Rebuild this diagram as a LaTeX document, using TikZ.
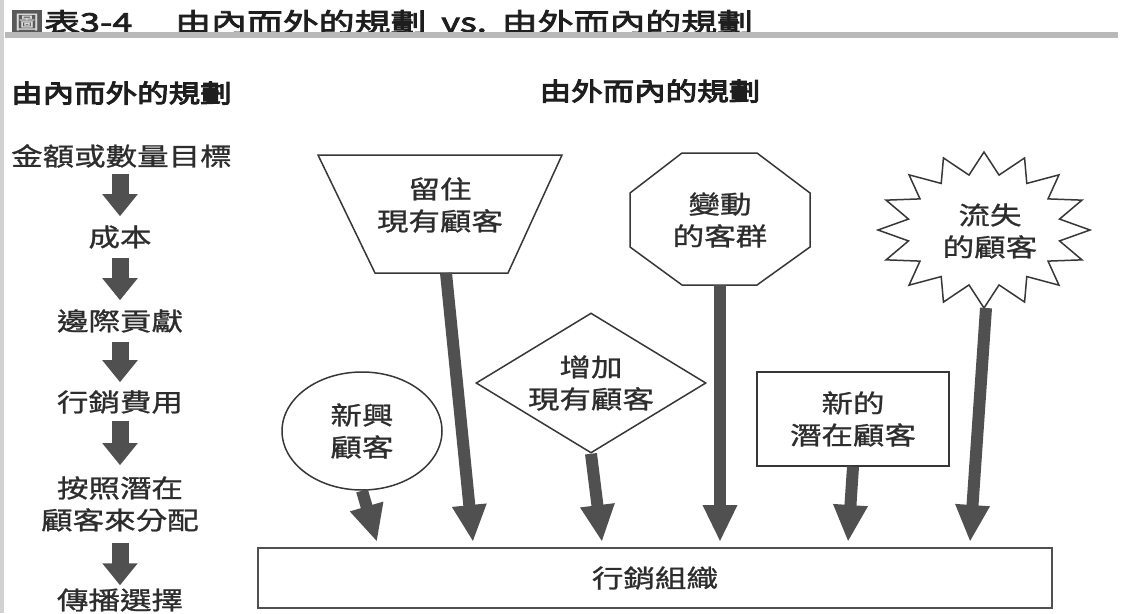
\documentclass[tikz,border=0pt]{standalone}
\usepackage{fontspec}
\newfontfamily\cjk[FakeStretch=1.26, FakeBold=1]{Noto Sans CJK TC}
\newfontfamily\cjkh[FakeStretch=1.26, FakeBold=4]{Noto Sans CJK TC}
\newfontfamily\cjkt[FakeStretch=1.38, FakeBold=3]{Noto Sans CJK TC}
\usetikzlibrary{arrows.meta,shapes.geometric}
\definecolor{arrowgray}{RGB}{80,80,80}
\definecolor{linegray}{RGB}{55,55,55}
\definecolor{txt}{RGB}{45,45,45}
\definecolor{headtxt}{RGB}{30,30,30}
\begin{document}
\begin{tikzpicture}[x=1pt,y=-1pt,
  every node/.style={inner sep=0pt, text=txt},
  body/.style={font=\cjk\fontsize{25}{32}\selectfont, align=center},
  heading/.style={font=\cjkh\fontsize{25}{32}\selectfont, text=headtxt},
  shapeline/.style={draw=linegray, line width=1.5pt},
  blockarrow/.style={draw=arrowgray, line width=17pt, -{Triangle[width=34pt,length=22pt]}},
  fatarrow/.style={draw=arrowgray, line width=12pt, -{Triangle[width=32pt,length=37pt]}},
]
\useasboundingbox (0,0) rectangle (1121,613);
\fill[white] (0,0) rectangle (1121,613);
\fill[gray!35] (0,0) rectangle (4,613);

% title
\node[fill=gray!70!black, text=gray!30, minimum width=30pt, minimum height=24pt,
      font=\cjk\fontsize{19}{19}\selectfont] (icon) at (27,22) {圖};
\node[anchor=west, font=\cjkt\fontsize{26}{26}\selectfont, text=headtxt] (tbl) at (44,22) {表3-4};
\node[anchor=west, font=\cjkt\fontsize{26}{26}\selectfont, text=headtxt] (title) at (175,22)
  {由內而外的規劃\hspace{15pt}vs.\hspace{15pt}由外而內的規劃};
\fill[gray!55] (5,32) rectangle (1118,38);

% left column
\node[heading, anchor=west] (inout) at (11,93) {由內而外的規劃};
\node[body, anchor=west] (goal) at (11,156) {金額或數量目標};
\node[body] (cost) at (120,237) {成本};
\node[body] (margin) at (120,321) {邊際貢獻};
\node[body] (mkt) at (120,402) {行銷費用};
\node[body] (alloc) at (120,504) {按照潛在\\顧客來分配};
\node[body] (media) at (120,600) {傳播選擇};

\draw[blockarrow, shorten <=6pt, shorten >=9pt] (goal.south -| cost.north) -- (cost.north);
\draw[blockarrow, shorten <=9pt, shorten >=9pt] (cost.south) -- (margin.north);
\draw[blockarrow, shorten <=9pt, shorten >=8pt] (margin.south) -- (mkt.north);
\draw[blockarrow, shorten <=7pt, shorten >=11pt] (mkt.south) -- (alloc.north);
\draw[blockarrow, shorten <=11pt, shorten >=3pt] (alloc.south) -- (media.north);

% right side
\node[heading] (outin) at (650,91) {由外而內的規劃};

% trapezoid
\draw[shapeline] (318,155) -- (562,155) -- (508,273) -- (375,273) -- cycle;
\coordinate (trapB) at (446,273);
\node[body] (keep) at (440,205) {留住\\現有顧客};

% octagon
\draw[shapeline] (682,153) -- (757,153) -- (810,193) -- (810,247) -- (757,285)
  -- (682,285) -- (630,247) -- (630,193) -- cycle;
\coordinate (octB) at (720,285);
\node[body] (vary) at (720,220) {變動\\的客群};

% star
\draw[shapeline, fill=white] plot[samples at={0,...,31}, variable=\i]
  ({984+ifthenelse(mod(\i,2)==0,106,77)*cos(90+\i*11.25)},
   {230-ifthenelse(mod(\i,2)==0,78,56)*sin(90+\i*11.25)}) -- cycle;
\coordinate (starB) at (986,308);
\node[body] (lost) at (990,231) {流失\\的顧客};

% diamond
\node[body, diamond, shapeline, minimum width=230pt, minimum height=140pt, aspect=1.64]
  (grow) at (591,383) {增加\\現有顧客};

% ellipse
\node[body, ellipse, shapeline, minimum width=160pt, minimum height=118pt]
  (newc) at (362,431) {新興\\顧客};

% rectangle
\node[body, rectangle, shapeline, minimum width=192pt, minimum height=94pt]
  (pot) at (853,419) {新的\\潛在顧客};

% organisation box
\node[body, draw=arrowgray, line width=2pt, minimum width=794pt, minimum height=60pt]
  (org) at (655,578) {行銷組織};

\coordinate (t1) at (377,542);
\coordinate (t2) at (473,542);
\coordinate (t3) at (602,542);
\coordinate (t4) at (720,542);
\coordinate (t5) at (848,542);
\coordinate (t6) at (970,542);

\draw[fatarrow] (newc.south) -- (t1);
\draw[fatarrow] (trapB) -- (t2);
\draw[fatarrow] (grow.south) -- (t3);
\draw[fatarrow] (octB) -- (t4);
\draw[fatarrow] (pot.south) -- (t5);
\draw[fatarrow] (starB) -- (t6);
\end{tikzpicture}
\end{document}
